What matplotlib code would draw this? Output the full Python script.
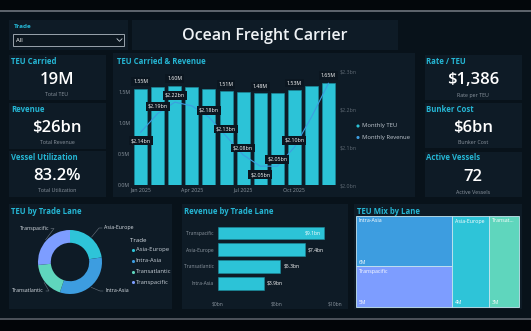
import matplotlib
matplotlib.use("Agg")
import math
import matplotlib.pyplot as plt
from matplotlib.patches import Rectangle

plt.rcParams["font.family"] = ["Open Sans", "DejaVu Sans"]

# ── data ────────────────────────────────────────────────────────
months = ["Jan", "Feb", "Mar", "Apr", "May", "Jun",
          "Jul", "Aug", "Sep", "Oct", "Nov", "Dec"]
month_ticks = ["Jan 2025", "Apr 2025", "Jul 2025", "Oct 2025"]
teu_m = [1.55, 1.58, 1.60, 1.58, 1.55, 1.51, 1.49, 1.48, 1.48, 1.53, 1.59, 1.65]
revenue_bn = [2.14, 2.19, 2.22, 2.21, 2.18, 2.13, 2.08, 2.05, 2.05, 2.10, 2.18, 2.27]
teu_labelled = ["Jan", "Mar", "Jun", "Aug", "Oct", "Dec"]
rev_labelled = ["Jan", "Feb", "Mar", "May", "Jun", "Jul", "Aug", "Sep", "Oct"]

kpi_left = [("TEU Carried", "19M", "Total TEU"),
            ("Revenue", "$26bn", "Total Revenue"),
            ("Vessel Utilization", "83.2%", "Total Utilization")]
kpi_right = [("Rate / TEU", "$1,386", "Rate per TEU"),
             ("Bunker Cost", "$6bn", "Bunker Cost"),
             ("Active Vessels", "72", "Active Vessels")]

lanes = ["Asia-Europe", "Intra-Asia", "Transatlantic", "Transpacific"]
lane_teu_m = [4.2, 6.0, 3.4, 4.9]
rev_lanes = ["Transpacific", "Asia-Europe", "Transatlantic", "Intra-Asia"]
rev_lane_bn = [9.1, 7.4, 5.3, 3.9]

# ── style ───────────────────────────────────────────────────────
W, H = 531, 331
BG = "#08121a"
PANEL = "#0e1b26"
CYAN_T = "#25b6d4"
GREY = "#8c96a0"
LANE_COL = {"Asia-Europe": "#2ec4d8", "Intra-Asia": "#3d9de0",
            "Transatlantic": "#5fd6bd", "Transpacific": "#7d9dff"}


def px(x, y, w, h):
    return [x / W, 1 - (y + h) / H, w / W, h / H]


fig = plt.figure(figsize=(W / 100, H / 100), dpi=100, facecolor=BG)
bg = fig.add_axes([0, 0, 1, 1])
bg.set_xlim(0, W)
bg.set_ylim(H, 0)
bg.axis("off")

# frame strips top / bottom
bg.add_patch(Rectangle((0, 0), W, 10, color="#03070b", lw=0))
bg.add_patch(Rectangle((0, 10), W, 1.5, color="#5c636b", lw=0))
bg.add_patch(Rectangle((0, 318), W, 2, color="#4a5058", lw=0))
bg.add_patch(Rectangle((0, 320), W, 11, color="#020508", lw=0))


def panel(x0, y0, x1, y1):
    bg.add_patch(Rectangle((x0, y0), x1 - x0, y1 - y0, color=PANEL, lw=0))


def title(x, y, s, size=5.6):
    bg.text(x, y, s, color=CYAN_T, fontsize=size, fontweight="bold",
            ha="left", va="center")


# slicer + title
panel(9, 20, 128, 50)
title(14, 27, "Trade", 4.6)
bg.add_patch(Rectangle((13, 34), 111, 12, fc="#0c1720", ec="#9aa4ad", lw=0.7))
bg.text(16, 40.5, "All", color="white", fontsize=4.3, va="center")
bg.plot([117, 119.5, 122], [38.8, 41.3, 38.8], color="#c8d0d8", lw=0.6)
panel(132, 20, 398, 50)
bg.text(265, 35.5, "Ocean Freight Carrier", color="#eef2f5", fontsize=11.5,
        fontweight="semibold", ha="center", va="center")

# KPI cards
left_boxes = [(55, 100), (103, 149), (151, 197)]
right_boxes = [(55, 100), (103, 148), (152, 197)]
for (t, v, s), (y0, y1) in zip(kpi_left, left_boxes):
    panel(9, y0, 106, y1)
    title(11, y0 + 6, t)
    bg.text(57, y0 + 25, v, color="white", fontsize=12, fontweight="semibold",
            ha="center", va="center")
    bg.text(57, y0 + 40, s, color=GREY, fontsize=3.8, ha="center", va="center")
for (t, v, s), (y0, y1) in zip(kpi_right, right_boxes):
    panel(425, y0, 522, y1)
    title(426, y0 + 6, t)
    bg.text(473, y0 + 25, v, color="white", fontsize=12, fontweight="semibold",
            ha="center", va="center")
    bg.text(473, y0 + 40, s, color=GREY, fontsize=3.8, ha="center", va="center")

# ── combo chart ────────────────────────────────────────────────
panel(113, 53, 415, 197)
title(117, 61, "TEU Carried & Revenue")
ax = fig.add_axes(px(133, 72, 204, 113))
ax.set_facecolor("none")
x = list(range(len(months)))
ax.bar(x, teu_m, width=0.76, color="#2cc3d7", edgecolor="#1b8c9e", lw=0.4)
ax.set_xlim(-0.45, 11.5)
ax.set_ylim(0, 1.82)
ax.set_yticks([0, 0.5, 1.0, 1.5])
ax.set_yticklabels(["0.0M", "0.5M", "1.0M", "1.5M"])
ax.set_xticks([months.index(m.split()[0]) for m in month_ticks])
ax.set_xticklabels(month_ticks)
ax.tick_params(length=0, labelsize=3.8, colors=GREY, pad=2)
for sp in ax.spines.values():
    sp.set_visible(False)
box = dict(boxstyle="square,pad=0.35", fc="#0b1620", ec="none")
for m in teu_labelled:
    i = months.index(m)
    ax.annotate(f"{teu_m[i]:.2f}M", (i, teu_m[i]), xytext=(0, 5),
                textcoords="offset points", ha="center", va="center",
                fontsize=3.8, color="white", bbox=box, zorder=5)

ax2 = ax.twinx()
ax2.plot(x, revenue_bn, color="#3d9de0", lw=0.8)
ax2.set_ylim(2.0, 2.3)
ax2.set_yticks([2.0, 2.1, 2.2, 2.3])
ax2.set_yticklabels(["$2.0bn", "$2.1bn", "$2.2bn", "$2.3bn"])
ax2.tick_params(length=0, labelsize=3.8, colors="#5f6a74", pad=2)
for sp in ax2.spines.values():
    sp.set_visible(False)
below = {"Jan", "Aug"}
for m in rev_labelled:
    i = months.index(m)
    dy = -6 if m in below else 5
    ax2.annotate(f"${revenue_bn[i]:.2f}bn", (i, revenue_bn[i]), xytext=(0, dy),
                 textcoords="offset points", ha="center", va="center",
                 fontsize=3.8, color="white", bbox=box, zorder=5)

bg.scatter([358, 358], [126, 137.5], s=5, color=["#2cc3d7", "#3d9de0"], lw=0)
bg.text(361.5, 126, "Monthly TEU", color="#c0c8d0", fontsize=4.2, va="center")
bg.text(361.5, 137.5, "Monthly Revenue", color="#c0c8d0", fontsize=4.2, va="center")

# ── donut ──────────────────────────────────────────────────────
panel(9, 204, 172, 309)
title(11, 211, "TEU by Trade Lane")
cx, cy, r = 70, 262, 32
dax = fig.add_axes(px(cx - r, cy - r, 2 * r, 2 * r))
dax.pie(lane_teu_m, colors=[LANE_COL[l] for l in lanes], startangle=90,
        counterclock=False, radius=1, wedgeprops=dict(width=0.4, lw=0))
dax.set_xlim(-1, 1)
dax.set_ylim(-1, 1)
dax.set_aspect("equal")
dax.axis("off")

label_pos = {"Asia-Europe": (104, 228, "left"), "Intra-Asia": (105, 291, "left"),
             "Transatlantic": (44, 291, "right"), "Transpacific": (49, 228.5, "right")}
ang = 90.0
total = sum(lane_teu_m)
for lane, v in zip(lanes, lane_teu_m):
    span = 360 * v / total
    mid = math.radians(ang - span / 2)
    ang -= span
    sx, sy = cx + (r + 1) * math.cos(mid), cy - (r + 1) * math.sin(mid)
    tx, ty, ha = label_pos[lane]
    ex = tx - 2 if ha == "left" else tx + 2
    bg.plot([sx, ex - (3 if ha == "left" else -3), ex], [sy, ty, ty],
            color="#6b7580", lw=0.4)
    bg.text(tx, ty, lane, color="#d8dee4", fontsize=3.8, ha=ha, va="center")

bg.text(130, 241, "Trade", color="#d8dee4", fontsize=4.4, va="center")
for k, lane in enumerate(lanes):
    yy = 250 + k * 10.8
    bg.scatter([132.5], [yy], s=5, color=LANE_COL[lane], lw=0)
    bg.text(135.5, yy, lane, color="#c8d0d8", fontsize=4.2, va="center")

# ── revenue by lane ───────────────────────────────────────────
panel(182, 204, 348, 309)
title(184, 211, "Revenue by Trade Lane")
bax = fig.add_axes(px(218, 224.6, 117, 67))
bax.set_facecolor("none")
yy = list(range(len(rev_lanes)))
bax.barh(yy, rev_lane_bn, height=0.76, color="#2cc3d7", edgecolor="#1b8c9e", lw=0.4)
bax.set_xlim(0, 10)
bax.set_ylim(3.5, -0.5)
bax.set_yticks(yy)
bax.set_yticklabels(rev_lanes)
bax.set_xticks([0, 5, 10])
bax.set_xticklabels(["$0bn", "$5bn", "$10bn"])
bax.tick_params(length=0, labelsize=3.6, colors=GREY)
bax.tick_params(axis="x", pad=7)
bax.tick_params(axis="y", pad=3)
for sp in bax.spines.values():
    sp.set_visible(False)
for i, v in enumerate(rev_lane_bn):
    if v > 8.5:
        bax.text(v - 0.3, i, f"${v}bn", color="white", fontsize=3.6,
                 ha="right", va="center")
    else:
        bax.text(v + 0.3, i, f"${v}bn", color="white", fontsize=3.6,
                 ha="left", va="center")

# ── treemap ────────────────────────────────────────────────────
panel(354, 204, 522, 309)
title(357, 211, "TEU Mix by Lane")
order = sorted(zip(lane_teu_m, lanes), reverse=True)
tx0, ty0, tw, th = 356, 216, 163, 91
tot = sum(lane_teu_m)
first = order[:2]
col_w = tw * sum(v for v, _ in first) / tot
rects = []
yc = ty0
for v, lane in first:
    hh = th * v / sum(v2 for v2, _ in first)
    rects.append((tx0, yc, col_w, hh, lane, v))
    yc += hh
xc = tx0 + col_w
for v, lane in order[2:]:
    ww = tw * v / tot
    rects.append((xc, ty0, ww, th, lane, v))
    xc += ww
for (rx, ry, rw, rh, lane, v) in rects:
    bg.add_patch(Rectangle((rx, ry), rw, rh, fc=LANE_COL[lane],
                           ec="#c6e6f0", lw=0.6))
    name = lane if rw > 35 else lane[:7] + "..."
    bg.text(rx + 2.5, ry + 5, name, color="white", fontsize=3.8, va="center")
    bg.text(rx + 2.5, ry + rh - 4, f"{round(v)}M", color="white",
            fontsize=3.6, va="center")

plt.savefig("out.png", dpi=100, facecolor=BG)
